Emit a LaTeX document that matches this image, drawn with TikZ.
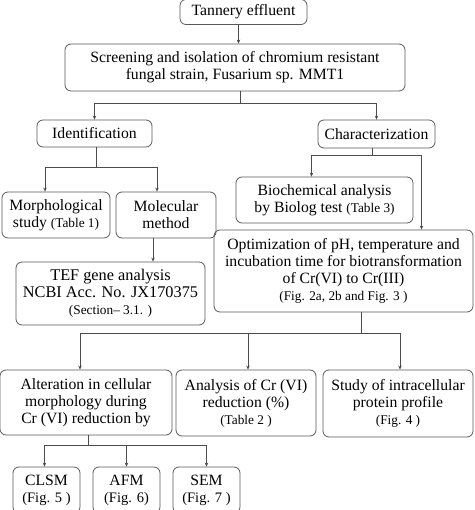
\documentclass[tikz,border=0pt]{standalone}
\usepackage{fontspec}
\setmainfont{Liberation Serif}
\usetikzlibrary{arrows.meta}

\newcommand{\smtxt}[1]{{\fontsize{13.3}{15}\selectfont #1}}
\newcommand{\figtxt}[1]{{\fontsize{14.5}{16}\selectfont #1}}

\begin{document}
\begin{tikzpicture}[x=1pt,y=-1pt,
    box/.style={draw=black!65, line width=0.8pt, rounded corners=6pt, align=center,
        inner sep=0pt, font=\fontsize{15.7}{17}\selectfont},
    ln/.style={draw=black!70, line width=0.7pt},
    arr/.style={ln, -{Stealth[length=4pt,width=3.5pt]}}]

    \useasboundingbox (0,0) rectangle (474,510);
    \clip (0,0) rectangle (474,510);

    % these are the boxes
    \node[box, minimum width=127pt, minimum height=25pt] (tan) at (243.5,12) {Tannery effluent};
    \node[box, minimum width=340pt, minimum height=47pt] (scr) at (235,67.5)
        {Screening and isolation of chromium resistant\\ fungal strain, Fusarium sp. MMT1};

    \node[box, minimum width=115pt, minimum height=27pt] (ident) at (94.5,133.5) {Identification};
    \node[box, minimum width=117pt, minimum height=28pt] (char) at (376.5,134) {Characterization};

    \node[box, minimum width=108pt, minimum height=46pt] (morph) at (56,215)
        {Morphological\\ study \smtxt{(Table 1)}};
    \node[box, minimum width=100pt, minimum height=46pt] (molec) at (166,215)
        {Molecular\\ method};
    \node[box, minimum width=177pt, minimum height=46pt] (bio) at (324.5,200)
        {Biochemical analysis\\ by Biolog test \smtxt{(Table 3)}};
    \node[box, minimum width=259pt, minimum height=82pt] (opt) at (343.5,271)
        {Optimization of pH, temperature and\\ incubation time for biotransformation\\
         of Cr(VI) to Cr(III)\\ \smtxt{(Fig. 2a, 2b and Fig. 3 )}};
    \node[box, minimum width=189pt, minimum height=63pt, font=\fontsize{16.3}{17}\selectfont] (tef) at (110.5,293.5)
        {TEF gene analysis\\ NCBI Acc. No. JX170375\\ \smtxt{(Section-- 3.1. )}};

    \node[box, minimum width=172pt, minimum height=65pt] (alt) at (86,402.5)
        {Alteration in cellular\\ morphology during\\ Cr (VI) reduction by};
    \node[box, minimum width=140pt, minimum height=66pt] (ana) at (246,403)
        {Analysis of Cr (VI)\\ reduction (\%)\\ \smtxt{(Table 2 )}};
    \node[box, minimum width=150pt, minimum height=67pt] (study) at (398,403.5)
        {Study of intracellular\\ protein profile\\ \smtxt{(Fig. 4 )}};

    \node[box, minimum width=67pt, minimum height=46pt] (clsm) at (46.5,490) {CLSM\\ \figtxt{(Fig. 5 )}};
    \node[box, minimum width=67pt, minimum height=46pt] (afm) at (126.5,490) {AFM\\ \figtxt{(Fig. 6)}};
    \node[box, minimum width=67pt, minimum height=46pt] (sem) at (206.5,490) {SEM\\ \figtxt{(Fig. 7 )}};

    % connectors
    \draw[arr] ([xshift=-5pt]tan.south) -- ([xshift=-5pt]tan.south |- scr.north);

    \draw[ln] ([xshift=5pt]scr.south) -- ++(0,12) coordinate (j1);
    \draw[arr] (j1) -| (ident.north);
    \draw[arr] (j1) -| (char.north);

    \draw[ln] ([xshift=2pt]ident.south) -- ++(0,20) coordinate (j2);
    \draw[arr] (j2) -| ([xshift=-11pt]morph.north);
    \draw[arr] (j2) -| ([xshift=-9pt]molec.north);

    \draw[ln] ([xshift=-4pt]char.south) -- ++(0,7) coordinate (j3);
    \draw[arr] (j3) -| ([xshift=-13pt]bio.north);
    \draw[arr] (j3) -| ([xshift=78pt]opt.north);

    \draw[arr] ([xshift=-13pt]molec.south) -- ([xshift=-13pt]molec.south |- tef.north);

    \draw[ln] ([xshift=18pt]opt.south) -- ++(0,21) coordinate (j4);
    \draw[arr] (j4) -| ([xshift=-6pt]alt.north);
    \draw[arr] (j4) -| ([xshift=2pt]ana.north);
    \draw[arr] (j4) -| ([xshift=2pt]study.north);

    \draw[ln] ([xshift=2pt]alt.south) -- ++(0,10) coordinate (j5);
    \draw[arr] (j5) -| ([xshift=-2pt]clsm.north);
    \draw[arr] (j5) -| (afm.north);
    \draw[arr] (j5) -| (sem.north);

\end{tikzpicture}
\end{document}
